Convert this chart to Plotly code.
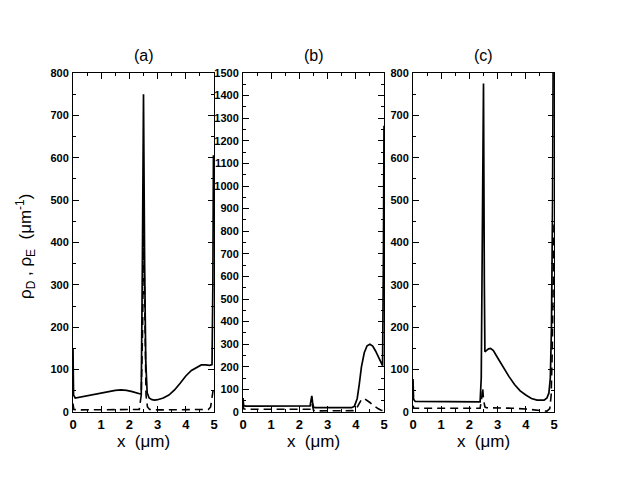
import plotly.graph_objects as go

# ---- data ----
panel_titles = ["(a)", "(b)", "(c)"]
y_max = [800, 1500, 800]

xa_s = [0, 0.02, 0.08, 0.3, 0.6, 0.9, 1.2, 1.5, 1.7, 1.9, 2.1, 2.3, 2.42, 2.46, 2.5, 2.54, 2.58, 2.63, 2.7, 2.8, 2.9, 3.0, 3.2, 3.4, 3.6, 3.8, 4.0, 4.2, 4.4, 4.55, 4.7, 4.85, 4.93, 4.96, 4.98]
ya_s = [150, 40, 33, 36, 40, 44, 48, 51, 52, 51, 48, 44, 42, 350, 750, 350, 120, 45, 33, 29, 28, 29, 33, 40, 52, 68, 85, 98, 106, 111, 111, 110, 112, 300, 606]
xa_d = [0, 0.03, 0.2, 1.0, 2.0, 2.35, 2.42, 2.47, 2.5, 2.54, 2.59, 2.64, 2.72, 3.0, 3.5, 4.0, 4.5, 4.8, 4.88, 4.93, 4.97]
ya_d = [20, 6, 5, 5, 5, 6, 40, 200, 450, 200, 40, 12, 6, 5, 5, 5, 5, 6, 12, 40, 52]

xb_s = [0, 0.02, 0.08, 0.5, 1.0, 1.5, 2.0, 2.38, 2.41, 2.44, 2.47, 2.5, 2.55, 3.0, 3.5, 3.85, 3.95, 4.05, 4.12, 4.2, 4.3, 4.4, 4.5, 4.6, 4.7, 4.8, 4.9, 4.95, 4.98, 5.0]
yb_s = [62, 30, 26, 26, 26, 26, 26, 27, 50, 71, 40, 22, 19, 18, 18, 19, 25, 60, 120, 200, 262, 293, 300, 292, 270, 245, 220, 205, 700, 1267]
xb_d = [0, 0.02, 0.1, 1, 2, 2.4, 2.45, 2.5, 2.55, 3, 3.5, 3.9, 4.0, 4.1, 4.2, 4.3, 4.4, 4.5, 4.6, 4.7, 4.8, 4.9, 4.95, 5.0]
yb_d = [40, 14, 12, 12, 12, 12, 35, 8, 5, 5, 5, 6, 10, 30, 55, 60, 52, 42, 32, 22, 14, 8, 6, 8]

xc_s = [0, 0.02, 0.08, 0.5, 1.0, 1.5, 2.0, 2.38, 2.42, 2.46, 2.5, 2.53, 2.55, 2.6, 2.68, 2.75, 2.85, 3.0, 3.2, 3.4, 3.6, 3.8, 4.0, 4.2, 4.4, 4.55, 4.65, 4.75, 4.82, 4.87, 4.91, 4.95, 4.98]
yc_s = [78, 30, 25, 25, 25, 25, 24, 24, 80, 400, 775, 300, 142, 145, 149, 150, 145, 128, 105, 84, 65, 50, 40, 32, 28, 27, 28, 33, 45, 80, 200, 500, 1000]
xc_d = [0, 0.03, 0.2, 1, 2, 2.38, 2.43, 2.47, 2.5, 2.55, 2.6, 3.0, 3.5, 4.0, 4.4, 4.6, 4.75, 4.85, 4.9, 4.94, 4.97, 5.0]
yc_d = [15, 9, 9, 9, 9, 9, 30, 57, 30, 12, 10, 10, 9, 7, 5, 3, 2, 8, 40, 150, 330, 445]

solid_x = [xa_s, xb_s, xc_s]
solid_y = [ya_s, yb_s, yc_s]
dash_x = [xa_d, xb_d, xc_d]
dash_y = [ya_d, yb_d, yc_d]

W, H = 628, 485
OFF = 8  # page body margin offset
x_px = [(73 - OFF, 214 - OFF), (243 - OFF, 384 - OFF), (413 - OFF, 554 - OFF)]
y_top, y_bot = 73 - OFF, 412 - OFF

FONT = "Liberation Sans, Arial, Helvetica, sans-serif"

fig = go.Figure()
layout = dict(
    width=W, height=H,
    margin=dict(l=0, r=0, t=0, b=0, autoexpand=False),
    paper_bgcolor="white", plot_bgcolor="white",
    showlegend=False,
    font=dict(family=FONT, color="black"),
)
annotations = []
for i in range(3):
    xs = "" if i == 0 else str(i + 1)
    fig.add_trace(go.Scatter(x=solid_x[i], y=solid_y[i], mode="lines",
                             line=dict(color="black", width=1.7),
                             xaxis="x" + xs, yaxis="y" + xs))
    fig.add_trace(go.Scatter(x=dash_x[i], y=dash_y[i], mode="lines",
                             line=dict(color="black", width=1.6, dash="8px,5px"),
                             xaxis="x" + xs, yaxis="y" + xs))
    x0, x1 = x_px[i]
    layout["xaxis" + xs] = dict(
        domain=[x0 / W, x1 / W], anchor="y" + xs, range=[0, 5],
        dtick=1, ticks="inside", ticklen=6, tickwidth=1, tickcolor="black",
        minor=dict(dtick=0.5, ticks="inside", ticklen=3, tickcolor="black"),
        showline=True, linecolor="black", linewidth=1, mirror="allticks",
        showgrid=False, zeroline=False, automargin=False,
        tickfont=dict(size=13, family=FONT, weight="bold"),
        title=dict(text="x  (μm)", font=dict(size=17, family=FONT), standoff=2),
    )
    layout["yaxis" + xs] = dict(
        domain=[1 - y_bot / H, 1 - y_top / H], anchor="x" + xs,
        range=[0, y_max[i]], dtick=100,
        ticks="inside", ticklen=6, tickwidth=1, tickcolor="black",
        minor=dict(dtick=50, ticks="inside", ticklen=3, tickcolor="black"),
        showline=True, linecolor="black", linewidth=1, mirror="allticks",
        showgrid=False, zeroline=False, automargin=False,
        tickfont=dict(size=11, family=FONT, weight="bold"),
        ticklabelstandoff=1,
    )
    annotations.append(dict(text=panel_titles[i], xref="paper", yref="paper",
                            x=(x0 + x1) / 2 / W, y=1 - (56 - OFF) / H, showarrow=False,
                            font=dict(size=16, family=FONT),
                            xanchor="center", yanchor="middle"))

annotations.append(dict(text="ρ<sub>D</sub> , ρ<sub>E</sub>  (μm<sup>-1</sup>)",
                        xref="paper", yref="paper", x=(25 - OFF) / W, y=1 - (247 - OFF) / H,
                        showarrow=False, textangle=-90,
                        font=dict(size=17, family=FONT),
                        xanchor="center", yanchor="middle"))
layout["annotations"] = annotations
fig.update_layout(**layout)
fig.write_html("out.html")
